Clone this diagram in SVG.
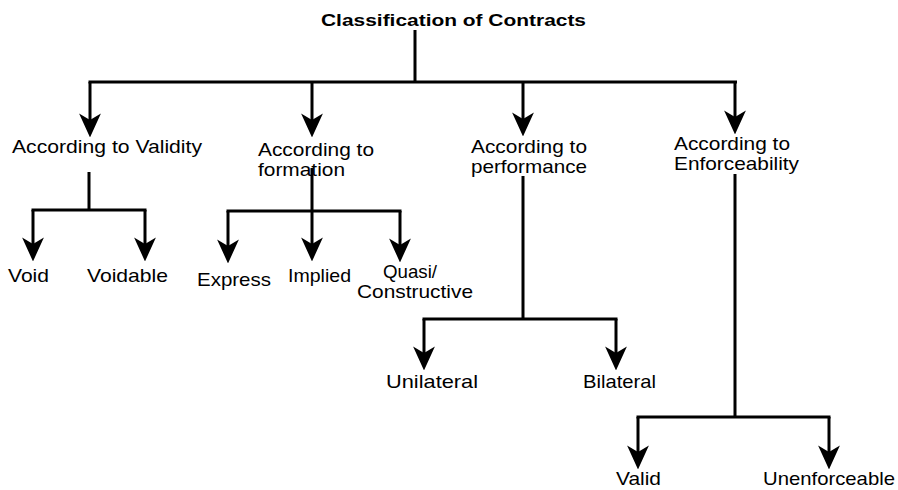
<svg xmlns="http://www.w3.org/2000/svg" width="898" height="490" viewBox="0 0 898 490">
<style>
.t{font-family:"Liberation Sans",Arial,sans-serif;font-size:19px;fill:#000}
.h{font-family:"Liberation Sans",Arial,sans-serif;font-size:17px;font-weight:bold;fill:#000}
.c{fill:none;stroke:#000;stroke-width:3;stroke-linejoin:miter}
.a{fill:none;stroke:#000;stroke-width:3;marker-end:url(#ah)}
</style>
<defs>
<marker id="ah" markerUnits="userSpaceOnUse" markerWidth="24" markerHeight="22" viewBox="0 0 22 20" refX="6" refY="10" orient="auto">
<path d="M0,0 L22,10 L0,20 L6,10 z" fill="#000"/>
</marker>
</defs>
<rect width="898" height="490" fill="#fff"/>
<g id="connectors">
<path class="c" d="M415,30 V82 M88.5,82 H737"/>
<path class="a" d="M90,82 V120"/>
<path class="a" d="M312,82 V120"/>
<path class="a" d="M523,82 V119"/>
<path class="a" d="M735,82 V117"/>
<path class="c" d="M89,172 V210 M31.5,210 H146.5"/>
<path class="a" d="M33,210 V244"/>
<path class="a" d="M145,210 V244"/>
<path class="c" d="M312,168 V211 M226.5,211 H401.5"/>
<path class="a" d="M228,211 V246"/>
<path class="a" d="M312,211 V244"/>
<path class="a" d="M400,211 V245"/>
<path class="c" d="M523,176 V319 M422.5,319 H617.5"/>
<path class="a" d="M424,319 V353"/>
<path class="a" d="M616,319 V353"/>
<path class="c" d="M735,174 V417 M636.5,417 H830.5"/>
<path class="a" d="M638,417 V452"/>
<path class="a" d="M829,417 V452"/>
</g>
<g id="root"><text class="h" x="321" y="26" textLength="265" lengthAdjust="spacingAndGlyphs">Classification of Contracts</text></g>
<g id="validity"><text class="t" x="12" y="153" textLength="190" lengthAdjust="spacingAndGlyphs">According to Validity</text></g>
<g id="formation"><text class="t" x="258" y="156" textLength="116" lengthAdjust="spacingAndGlyphs">According to</text><text class="t" x="258" y="176" textLength="87" lengthAdjust="spacingAndGlyphs">formation</text></g>
<g id="performance"><text class="t" x="471" y="153" textLength="116" lengthAdjust="spacingAndGlyphs">According to</text><text class="t" x="471" y="173" textLength="116" lengthAdjust="spacingAndGlyphs">performance</text></g>
<g id="enforceability"><text class="t" x="674" y="150" textLength="116" lengthAdjust="spacingAndGlyphs">According to</text><text class="t" x="674" y="170" textLength="125" lengthAdjust="spacingAndGlyphs">Enforceability</text></g>
<g id="void"><text class="t" x="8" y="282" textLength="41" lengthAdjust="spacingAndGlyphs">Void</text></g>
<g id="voidable"><text class="t" x="87" y="282" textLength="81" lengthAdjust="spacingAndGlyphs">Voidable</text></g>
<g id="express"><text class="t" x="197" y="286" textLength="74" lengthAdjust="spacingAndGlyphs">Express</text></g>
<g id="implied"><text class="t" x="288" y="282" textLength="63" lengthAdjust="spacingAndGlyphs">Implied</text></g>
<g id="quasi"><text class="t" x="383" y="278" textLength="54" lengthAdjust="spacingAndGlyphs">Quasi/</text><text class="t" x="357" y="298" textLength="116" lengthAdjust="spacingAndGlyphs">Constructive</text></g>
<g id="unilateral"><text class="t" x="386" y="388" textLength="92" lengthAdjust="spacingAndGlyphs">Unilateral</text></g>
<g id="bilateral"><text class="t" x="583" y="388" textLength="73" lengthAdjust="spacingAndGlyphs">Bilateral</text></g>
<g id="valid"><text class="t" x="616" y="485" textLength="45" lengthAdjust="spacingAndGlyphs">Valid</text></g>
<g id="unenforceable"><text class="t" x="763" y="485" textLength="132" lengthAdjust="spacingAndGlyphs">Unenforceable</text></g>
</svg>
